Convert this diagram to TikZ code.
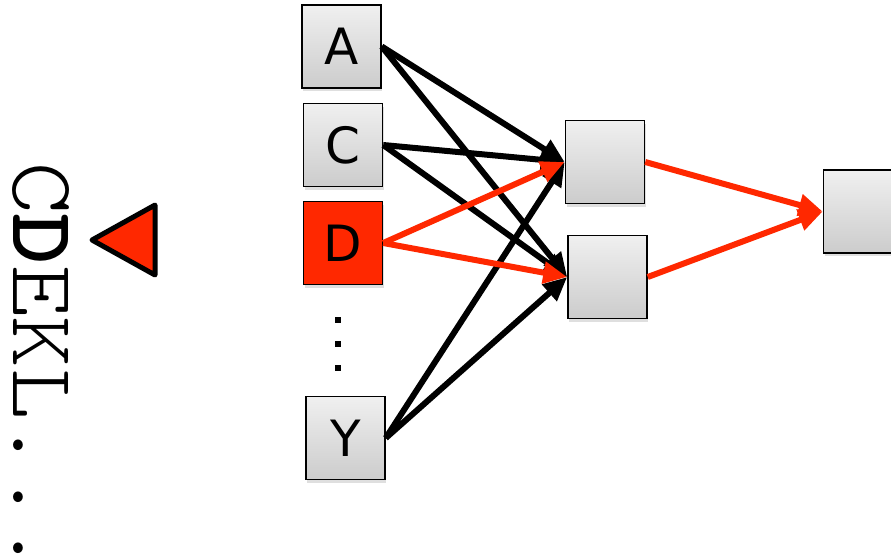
\documentclass[tikz,border=0pt]{standalone}
\usepackage{fontspec}
\newfontfamily\boxfont{DejaVu Sans}
\newfontfamily\monofont{Latin Modern Mono Light}
\usetikzlibrary{arrows.meta,shadows}
\definecolor{hotred}{RGB}{255,40,0}
\tikzset{
  box/.style={draw=black, line width=1.5pt, minimum width=79pt, minimum height=83pt,
    inner sep=0pt, top color=black!6, bottom color=black!20,
    drop shadow={shadow xshift=1pt, shadow yshift=-3pt, opacity=0.25},
    font=\boxfont\fontsize{50}{50}\selectfont},
  redbox/.style={box, top color=hotred, bottom color=hotred},
  blk/.style={draw=black, line width=6pt, -{Triangle[length=24pt,width=21pt]}},
  rdl/.style={draw=hotred, line width=6pt, -{Triangle[length=24pt,width=21pt]}},
  dotsq/.style={fill=black, minimum size=6pt, inner sep=0pt}
}
\begin{document}
\begin{tikzpicture}[x=1pt,y=-1pt]
\useasboundingbox (0,0) rectangle (891,558);
\clip (0,0) rectangle (891,558);
% sequence
\node[rotate=-90, xscale=1.09, anchor=base west, inner sep=0pt,
      font=\monofont\fontsize{90}{90}\selectfont] (seq) at (13,162) {C\textbf{D}EKL...};
\draw[fill=hotred, line width=5pt, line join=round] (92,240) -- (155,205) -- (155,275) -- cycle;
% input boxes
\node[box] (A) at (341.5,46.5) {A};
\node[box] (C) at (343,145) {C};
\node[redbox] (D) at (343,243) {D};
\node[box] (Y) at (345.5,438) {Y};
\node[dotsq] (d1) at (338,320) {};
\node[dotsq] (d2) at (338,344) {};
\node[dotsq] (d3) at (338,368) {};
% hidden layer
\node[box] (H1) at (605,162) {};
\node[box] (H2) at (607.5,277) {};
% output
\node[box] (O) at (863,211.5) {};
% connections
\draw[blk] (A.east) -- (H1.west);
\draw[blk] (A.east) -- (H2.west);
\draw[blk] (C.east) -- (H1.west);
\draw[blk] (C.east) -- (H2.west);
\draw[blk] (Y.east) -- (H1.west);
\draw[blk] (Y.east) -- (H2.west);
\draw[rdl] (D.east) -- (H1.west);
\draw[rdl] (D.east) -- (H2.west);
\draw[rdl] (H1.east) -- (O.west);
\draw[rdl] (H2.east) -- (O.west);
\end{tikzpicture}
\end{document}
